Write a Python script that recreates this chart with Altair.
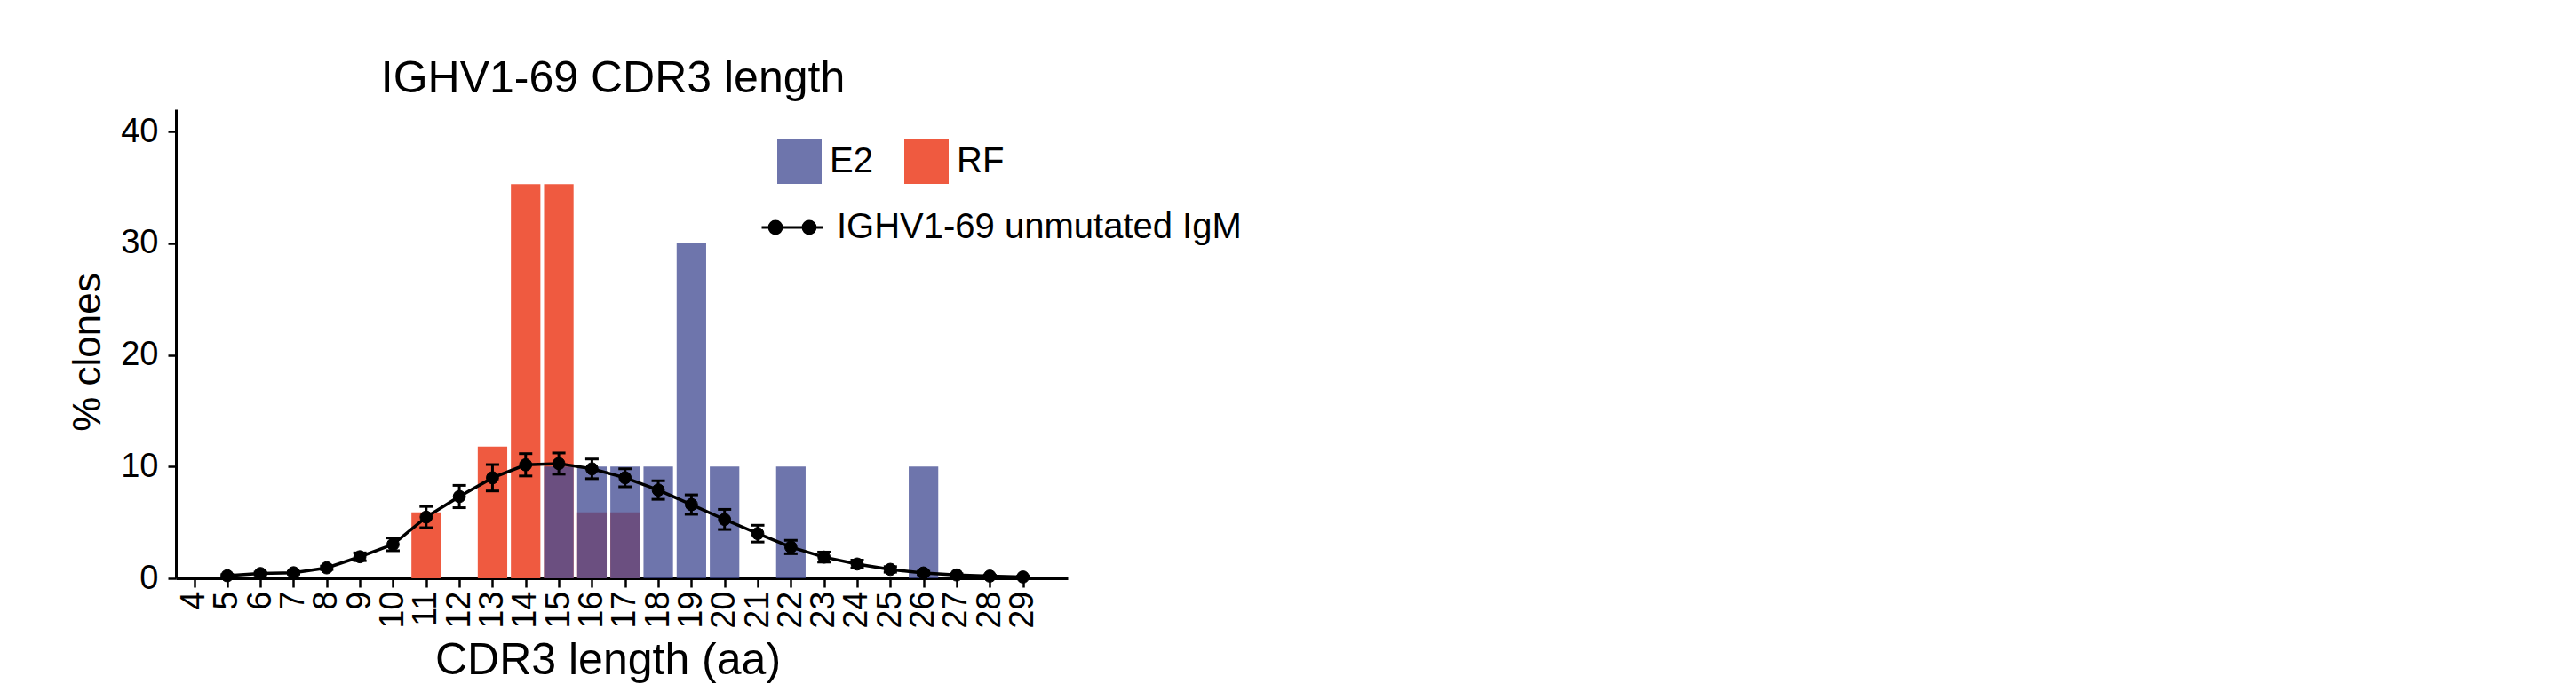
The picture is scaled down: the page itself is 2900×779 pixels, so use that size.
import altair as alt
import pandas as pd

# ---------------- data ----------------
igm_len = list(range(5, 30))
igm_mean = [0.23, 0.43, 0.5, 0.94, 1.93, 3.04, 5.48, 7.32, 9.0, 10.16, 10.27, 9.8,
            9.0, 7.9, 6.6, 5.27, 4.0, 2.8, 1.9, 1.28, 0.8, 0.48, 0.3, 0.2, 0.12]
igm_sem = [0.1, 0.12, 0.12, 0.15, 0.35, 0.57, 0.95, 1.0, 1.18, 1.0, 0.95, 0.88,
           0.8, 0.83, 0.87, 0.9, 0.75, 0.6, 0.45, 0.35, 0.25, 0.15, 0.1, 0.08, 0.06]
rf_len = [11, 13, 14, 15, 16, 17]
rf_pct = [5.9, 11.8, 35.3, 35.3, 5.9, 5.9]
e2_len = [15, 16, 17, 18, 19, 20, 22, 26]
e2_pct = [10, 10, 10, 10, 30, 10, 10, 10]
x_ticks = list(range(4, 30))
y_ticks = [0, 10, 20, 30, 40]
groups = ["E2", "RF"]
group_colors = ["#434B93", "#EF5A40"]
group_opacity = [0.77, 1.0]
series_name = "IGHV1-69 unmutated IgM"

bars = pd.DataFrame({
    "len": rf_len + e2_len,
    "pct": rf_pct + e2_pct,
    "group": ["RF"] * len(rf_len) + ["E2"] * len(e2_len),
})
igm = pd.DataFrame({"len": igm_len, "mean": igm_mean, "sem": igm_sem})
igm["series"] = series_name

FONT = "Liberation Sans"

x_scale = alt.Scale(domain=[3.45, 30.35], nice=False, zero=False)
y_scale = alt.Scale(domain=[0, 42], nice=False)

x_axis = alt.Axis(values=x_ticks, labelAngle=270, labelFontSize=38, labelPadding=4,
                  tickSize=10, tickWidth=2.5, tickColor="black", domainColor="black",
                  domainWidth=3, grid=False, title="CDR3 length (aa)", titleFontSize=50,
                  titleX=486, titleY=107, titleBaseline="alphabetic", titleAlign="center",
                  labelColor="black", titleColor="black",
                  labelFlush=False, labelOverlap=False)
y_axis = alt.Axis(values=y_ticks, labelFontSize=38, labelPadding=11, tickSize=9,
                  tickWidth=2.5, tickColor="black", domainColor="black", domainWidth=3,
                  grid=False, title="% clones", titleFontSize=44,
                  titleX=-86, titleY=273, titleBaseline="alphabetic", titleAlign="center",
                  labelColor="black", titleColor="black")

color_scale = alt.Scale(domain=groups, range=group_colors)
opac_scale = alt.Scale(domain=groups, range=group_opacity)

bar_legend = alt.Legend(title=None, orient="none", legendX=677, legendY=34,
                        direction="horizontal", symbolType="square", symbolSize=2500,
                        symbolStrokeWidth=0, labelFontSize=40, labelFont=FONT,
                        labelOffset=9, columnPadding=35, padding=0, labelColor="black",
                        labelLimit=1000)

line_symbol = ("M-1,0L1,0"
               "M-0.35,0A0.2,0.2,0,1,1,-0.75,0A0.2,0.2,0,1,1,-0.35,0Z"
               "M0.75,0A0.2,0.2,0,1,1,0.35,0A0.2,0.2,0,1,1,0.75,0Z")
line_legend = alt.Legend(title=None, orient="none", legendX=658, legendY=97,
                         symbolType=line_symbol, symbolSize=4761, symbolStrokeWidth=3,
                         symbolStrokeColor="black", symbolFillColor="black",
                         labelFontSize=40, labelFont=FONT, labelOffset=14, padding=0,
                         labelColor="black", labelLimit=1000)

base_bar = alt.Chart(bars).transform_calculate(
    x0="datum.len - 0.445", x1="datum.len + 0.445")


def bar_layer(g):
    return base_bar.transform_filter(alt.datum.group == g).mark_bar(strokeWidth=0).encode(
        x=alt.X("x0:Q", scale=x_scale, axis=x_axis),
        x2="x1:Q",
        y=alt.Y("pct:Q", scale=y_scale, axis=y_axis),
        y2=alt.datum(0),
        color=alt.Color("group:N", scale=color_scale, legend=bar_legend),
        opacity=alt.Opacity("group:N", scale=opac_scale, legend=bar_legend),
    )


base_igm = alt.Chart(igm).transform_calculate(
    lo="datum.mean - datum.sem", hi="datum.mean + datum.sem")

err_rule = base_igm.mark_rule(color="black", strokeWidth=3).encode(
    x=alt.X("len:Q", scale=x_scale, axis=x_axis),
    y=alt.Y("lo:Q", scale=y_scale, axis=y_axis),
    y2="hi:Q",
)
err_caps = base_igm.transform_fold(["lo", "hi"], as_=["end", "val"]).mark_tick(
    orient="horizontal", size=15, thickness=3, color="black", opacity=1).encode(
    x=alt.X("len:Q", scale=x_scale, axis=x_axis),
    y=alt.Y("val:Q", scale=y_scale, axis=y_axis),
)
line = alt.Chart(igm).mark_line(color="black", strokeWidth=3.5).encode(
    x=alt.X("len:Q", scale=x_scale, axis=x_axis),
    y=alt.Y("mean:Q", scale=y_scale, axis=y_axis),
)
points = alt.Chart(igm).mark_point(filled=True, shape="circle", size=190, opacity=1,
                                   strokeWidth=1).encode(
    x=alt.X("len:Q", scale=x_scale, axis=x_axis),
    y=alt.Y("mean:Q", scale=y_scale, axis=y_axis),
    fill=alt.Fill("series:N", scale=alt.Scale(domain=[series_name], range=["black"]),
                  legend=line_legend),
    stroke=alt.Stroke("series:N", scale=alt.Scale(domain=[series_name], range=["black"]),
                      legend=line_legend),
)

chart = alt.layer(
    bar_layer("RF"), bar_layer("E2"), err_rule, err_caps, line, points
).properties(
    width=1004,
    height=528,
    title=alt.TitleParams("IGHV1-69 CDR3 length", fontSize=50, font=FONT,
                          fontWeight="normal", anchor="middle", offset=17,
                          baseline="alphabetic", color="black", dx=-10, dy=48),
    autosize=alt.AutoSizeParams(type="none"),
    padding={"left": 190, "top": 115, "right": 420, "bottom": 128},
    background="white",
).configure_view(strokeWidth=0).configure_axis(
    labelFont=FONT, titleFont=FONT, titleFontWeight="normal"
).configure_legend(labelFont=FONT)

chart.save("out.html", embed_options={"renderer": "svg", "actions": False})
